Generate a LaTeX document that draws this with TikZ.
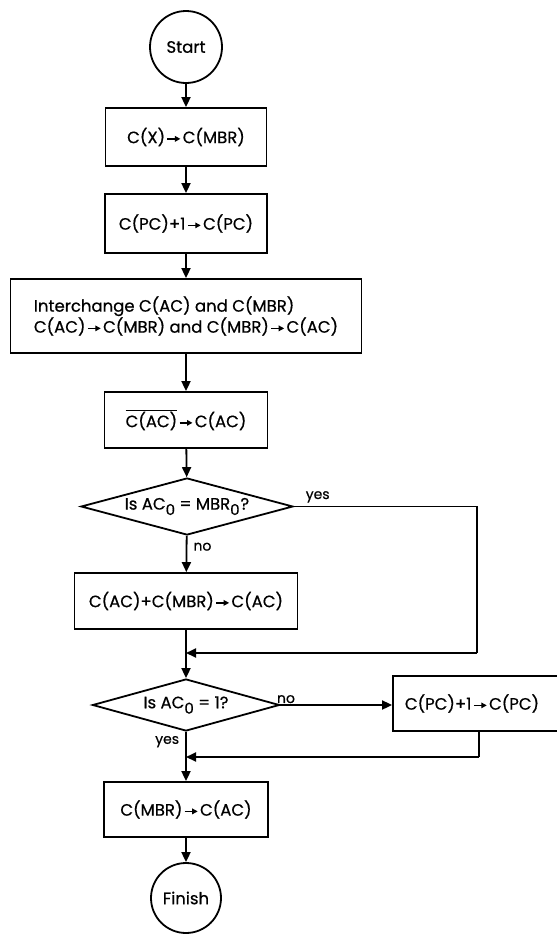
\documentclass[tikz,border=0pt]{standalone}
\usepackage{fontspec}
\setmainfont{Poppins}[FakeBold=0.6]
\usetikzlibrary{shapes.geometric,arrows.meta}
\newcommand{\rto}{\hspace{0.1em}\tikz[x=1pt,y=1pt,baseline=0pt]\draw[line width=1.3pt,-{Triangle[length=5.5pt,width=5.5pt]}] (0,4.3) -- (13,4.3);\hspace{0.1em}}
\newcommand{\subz}{\raisebox{-0.6ex}{\fontsize{15}{15}\selectfont 0}}
\tikzset{
  txt/.style={font=\fontsize{16.5}{21}\selectfont},
  box/.style={txt, draw, line width=1.8pt, rectangle, inner sep=0pt, align=center},
  term/.style={txt, draw, line width=1.8pt, circle, inner sep=0pt},
  decis/.style={txt, draw, line width=1.8pt, diamond, shape aspect=3.7, inner sep=0pt},
  arr/.style={line width=1.8pt, -{Triangle[length=10pt,width=9pt]}},
  ln/.style={line width=1.8pt},
  lbl/.style={font=\fontsize{14}{16}\selectfont, inner sep=1pt}
}
\begin{document}
\begin{tikzpicture}[x=1pt,y=1pt]
\useasboundingbox (0,0) rectangle (557,-935);
\clip (0,0) rectangle (557,-935);
\node[term, minimum size=72pt] (start) at (186,-47) {Start};
\node[box, minimum width=161pt, minimum height=58pt] (b1) at (186,-137) {C(X)\rto C(MBR)};
\node[box, minimum width=162pt, minimum height=59pt] (b2) at (186,-223.5) {C(PC)+1\rto C(PC)};
\node[box, minimum width=351pt, minimum height=74pt, align=left] (b3) at (186,-316) {Interchange C(AC) and C(MBR)\\C(AC)\rto C(MBR) and C(MBR)\rto C(AC)};
\node[box, minimum width=163pt, minimum height=56pt] (b4) at (186,-420) {$\overline{\mbox{C(AC)}}$\rto C(AC)};
\node[decis, minimum width=212pt, minimum height=57pt] (d1) at (187,-506.5) {Is AC\subz\ = MBR\subz\kern1pt?};
\node[box, minimum width=223pt, minimum height=56pt] (b5) at (186,-601) {C(AC)+C(MBR)\rto C(AC)};
\node[decis, minimum width=187pt, minimum height=52pt] (d2) at (186,-705) {Is AC\subz\ = 1?};
\node[box, minimum width=172pt, minimum height=55pt] (b6) at (479,-703.5) {\hspace*{-14pt}C(PC)+1\rto C(PC)};
\node[box, minimum width=164pt, minimum height=55pt] (b7) at (186,-809.5) {C(MBR)\rto C(AC)};
\node[term, minimum size=70pt] (fin) at (186,-898) {Finish};
\coordinate (c1) at (477,-653);
\coordinate (c2) at (479,-757);
\draw[arr] (start) -- (b1);
\draw[arr] (b1) -- (b2);
\draw[arr] (b2) -- (b3);
\draw[arr] (b3) -- (b4);
\draw[arr] (b4) -- (d1);
\draw[arr] (d1) -- node[lbl, pos=0.3, right=5pt] {no} (b5);
\draw[arr] (b5) -- (d2);
\draw[arr] (d2) -- node[lbl, pos=0.2, left=5pt] {yes} (b7);
\draw[arr] (b7) -- (fin);
\draw[ln] (d1.east) -- node[lbl, pos=0.13, above=2pt] {yes} (d1.east -| c1) -- (c1);
\draw[arr] (c1) -- (c1 -| b5.south);
\draw[arr] (d2.east) -- node[lbl, pos=0.05, above=0pt] {no} (d2.east -| b6.west);
\draw[ln] (b6.south) -- (c2);
\draw[arr] (c2) -- (c2 -| b7.north);
\end{tikzpicture}
\end{document}
